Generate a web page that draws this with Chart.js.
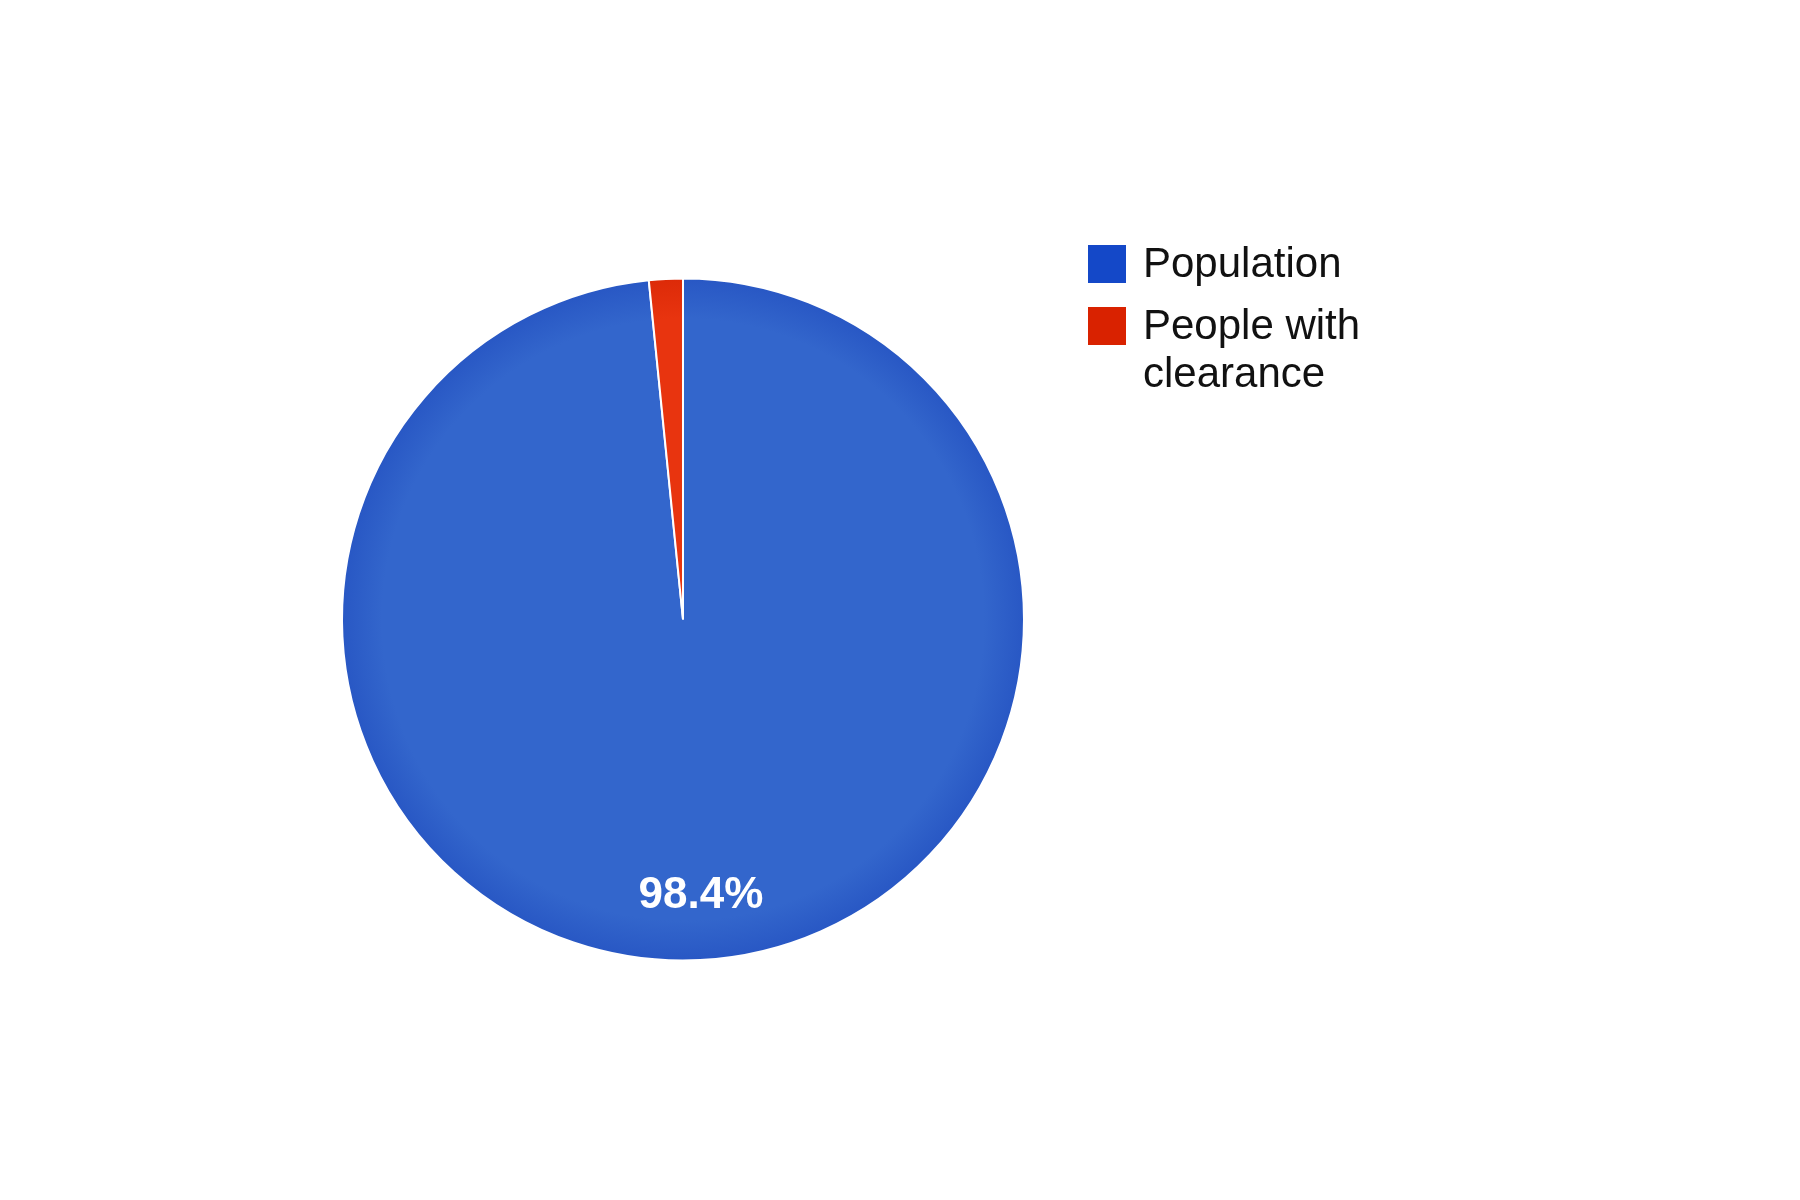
<!DOCTYPE html>
<html>
<head>
<meta charset="utf-8">
<title>Population vs clearance</title>
<script src="https://cdn.jsdelivr.net/npm/chart.js@4/dist/chart.umd.min.js"></script>
<style>
  html, body { margin: 0; padding: 0; background: #fff; }
  #wrap { width: 1800px; height: 1200px; }
</style>
</head>
<body>
<div id="wrap"><canvas id="pie" width="1800" height="1200"></canvas></div>
<script>
// -----------------------------
// Data
// -----------------------------
const categories = ['Population', 'People with clearance'];
const shares = [98.4, 1.6];
const sliceColors = ['#3366cc', '#e8340f'];
const sliceEdge = ['#2857c4', '#dc2a08'];
const legendColors = ['#1448c8', '#d92200'];

// radial shading like the original render
function shade(ctx) {
    const chart = ctx.chart;
    const area = chart.chartArea;
    const i = ctx.dataIndex;
    if (!area || i === undefined) return sliceColors[i] || sliceColors[0];
    const cx = (area.left + area.right) / 2;
    const cy = (area.top + area.bottom) / 2;
    const r = Math.min(area.width, area.height) / 2;
    if (!isFinite(cx) || !isFinite(cy) || !(r > 0)) return sliceColors[i];
    const g = chart.ctx.createRadialGradient(cx, cy, 0, cx, cy, r);
    g.addColorStop(0, sliceColors[i]);
    g.addColorStop(0.88, sliceColors[i]);
    g.addColorStop(1, sliceEdge[i]);
    return g;
}

// percent labels inside big slices
const sliceLabels = {
    id: 'sliceLabels',
    afterDatasetsDraw(chart) {
        const ctx = chart.ctx;
        const total = shares.reduce((a, b) => a + b, 0);
        chart.getDatasetMeta(0).data.forEach((arc, i) => {
            const pct = shares[i] / total * 100;
            if (pct < 5) return;
            const mid = (arc.startAngle + arc.endAngle) / 2;
            const d = arc.outerRadius * 0.81;
            ctx.save();
            ctx.fillStyle = '#ffffff';
            ctx.font = 'bold 44px "Liberation Sans", Arial, sans-serif';
            ctx.textAlign = 'center';
            ctx.textBaseline = 'middle';
            ctx.fillText(pct.toFixed(1) + '%', arc.x + Math.cos(mid) * d + 4, arc.y + Math.sin(mid) * d);
            ctx.restore();
        });
    }
};

// legend on the right, wrapped text
const sideLegend = {
    id: 'sideLegend',
    afterDraw(chart) {
        const ctx = chart.ctx;
        const boxX = 1088, textX = 1143, box = 38, lineH = 48, maxW = 230;
        let y = 245;
        ctx.save();
        ctx.font = '42px "Liberation Sans", Arial, sans-serif';
        ctx.textBaseline = 'alphabetic';
        categories.forEach((name, i) => {
            ctx.fillStyle = legendColors[i];
            ctx.fillRect(boxX, y, box, box);
            // word wrap
            const words = name.split(' ');
            const lines = [];
            let cur = '';
            words.forEach(w => {
                const t = cur ? cur + ' ' + w : w;
                if (ctx.measureText(t).width > maxW && cur) {
                    lines.push(cur);
                    cur = w;
                } else {
                    cur = t;
                }
            });
            lines.push(cur);
            ctx.fillStyle = '#111111';
            lines.forEach((ln, k) => ctx.fillText(ln, textX, y + 32 + k * lineH));
            y += 62 + (lines.length - 1) * lineH;
        });
        ctx.restore();
    }
};

new Chart(document.getElementById('pie'), {
    type: 'pie',
    data: {
        labels: categories,
        datasets: [{
            data: shares,
            backgroundColor: shade,
            borderColor: '#ffffff',
            borderWidth: 2
        }]
    },
    options: {
        responsive: false,
        animation: false,
        layout: { padding: { left: 341, right: 775, top: 277, bottom: 238 } },
        plugins: {
            legend: { display: false },
            tooltip: { enabled: false }
        }
    },
    plugins: [sliceLabels, sideLegend]
});
</script>
</body>
</html>
